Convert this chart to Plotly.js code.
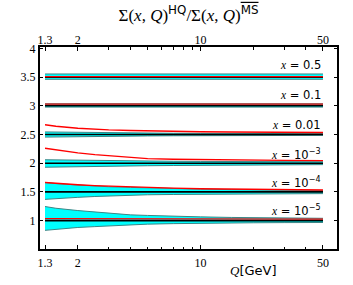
<!DOCTYPE html>
<html><head><meta charset="utf-8">
<script src="https://cdn.plot.ly/plotly-3.0.1.min.js"></script>
<style>html,body{margin:0;padding:0;background:#fff}#g{width:353px;height:285px}</style>
</head><body><div id="g"></div>
<script>
const Q = [1.3, 1.5, 2, 2.5, 3, 4, 5, 7, 10, 15, 20, 30, 50];
const labels = ['0.5', '0.1', '0.01', '10<sup>−3</sup>', '10<sup>−4</sup>', '10<sup>−5</sup>'];
const labelY = [3.71, 3.19, 2.67, 2.145, 1.67, 1.17];
const center = [3.5, 3.0, 2.5, 2.0, 1.5, 1.0];
// band upper / lower edges and HQ (red) curves
const up05 = [3.555,3.555,3.555,3.555,3.555,3.555,3.555,3.555,3.555,3.555,3.555,3.555,3.555];
const lo05 = [3.462,3.462,3.462,3.462,3.462,3.462,3.462,3.462,3.462,3.462,3.462,3.462,3.462];
const red05 = [3.508,3.508,3.508,3.508,3.508,3.508,3.508,3.508,3.508,3.508,3.508,3.508,3.508];
const up01 = [3.035,3.035,3.035,3.035,3.035,3.035,3.035,3.035,3.035,3.035,3.035,3.035,3.035];
const lo01 = [2.978,2.978,2.978,2.978,2.978,2.978,2.978,2.978,2.978,2.978,2.978,2.978,2.978];
const red01 = [3.03,3.03,3.03,3.03,3.03,3.03,3.03,3.03,3.03,3.03,3.03,3.03,3.03];
const up001 = [2.545,2.542,2.537,2.533,2.53,2.527,2.525,2.522,2.52,2.518,2.517,2.516,2.515];
const lo001 = [2.455,2.458,2.463,2.467,2.47,2.473,2.475,2.478,2.48,2.482,2.483,2.484,2.485];
const red001 = [2.67,2.645,2.61,2.59,2.58,2.57,2.562,2.555,2.548,2.543,2.54,2.537,2.535];
const up1e3 = [2.06,2.057,2.05,2.046,2.043,2.04,2.037,2.034,2.031,2.029,2.028,2.026,2.025];
const lo1e3 = [1.93,1.934,1.94,1.944,1.947,1.952,1.956,1.96,1.964,1.967,1.97,1.972,1.975];
const red1e3 = [2.26,2.23,2.18,2.15,2.13,2.095,2.08,2.07,2.062,2.057,2.053,2.05,2.045];
const up1e4 = [1.665,1.645,1.62,1.6,1.59,1.578,1.568,1.558,1.548,1.54,1.535,1.53,1.525];
const lo1e4 = [1.37,1.385,1.405,1.42,1.43,1.443,1.45,1.455,1.46,1.463,1.465,1.467,1.47];
const red1e4 = [1.665,1.65,1.625,1.61,1.6,1.585,1.575,1.565,1.555,1.548,1.543,1.537,1.532];
const up1e5 = [1.245,1.215,1.175,1.15,1.13,1.1,1.09,1.075,1.065,1.055,1.05,1.045,1.04];
const lo1e5 = [0.83,0.85,0.88,0.895,0.907,0.928,0.938,0.947,0.955,0.96,0.962,0.965,0.967];
const red1e5 = [1.035,1.034,1.033,1.032,1.031,1.03,1.03,1.029,1.028,1.027,1.026,1.026,1.025];
const xTicks = [1.3, 2, 10, 50];
const xMinor = [3,4,5,6,7,8,9,20,30,40];
const yTicks = [1, 1.5, 2, 2.5, 3, 3.5, 4];

const ups = [up05, up01, up001, up1e3, up1e4, up1e5];
const los = [lo05, lo01, lo001, lo1e3, lo1e4, lo1e5];
const reds = [red05, red01, red001, red1e3, red1e4, red1e5];

const traces = [];
const edge = {color: '#3c8585', width: 1};
for (let i = 0; i < 6; i++) {
  traces.push({x: Q, y: los[i], mode: 'lines', line: edge, hoverinfo: 'skip', showlegend: false});
  traces.push({x: Q, y: ups[i], mode: 'lines', line: edge, fill: 'tonexty', fillcolor: '#00ffff', hoverinfo: 'skip', showlegend: false});
}
for (let i = 0; i < 6; i++) {
  traces.push({x: Q, y: Q.map(() => center[i]), mode: 'lines', line: {color: '#000', width: 1.6}, showlegend: false});
}
for (let i = 0; i < 6; i++) {
  traces.push({x: Q, y: reds[i], mode: 'lines', line: {color: '#ff0000', width: 1.4}, showlegend: false});
}
traces.push({x: xTicks, y: xTicks.map(() => 2), xaxis: 'x2', mode: 'markers', marker: {opacity: 0}, hoverinfo: 'skip', showlegend: false});

const tickFont = {family: 'Liberation Serif, Times New Roman, serif', size: 12, color: '#000'};
const xr = [Math.log10(1.217), Math.log10(60.1)];
const annotations = labels.map((t, i) => ({
  x: Math.log10(50), y: labelY[i], xref: 'x', yref: 'y', xanchor: 'right', yanchor: 'middle',
  text: '<i style="font-family:Liberation Serif">x</i> = ' + t, showarrow: false,
  font: {family: 'DejaVu Sans, sans-serif', size: 11.5, color: '#000'}
}));
annotations.push({
  x: (253 - 40) / 297, y: -(270 - 249) / 202, xref: 'paper', yref: 'paper', xanchor: 'center', yanchor: 'middle',
  text: '<i style="font-family:Liberation Serif">Q</i>[GeV]', showarrow: false,
  font: {family: 'DejaVu Sans, sans-serif', size: 13, color: '#000'}
});

const layout = {
  width: 353, height: 285,
  margin: {l: 40, r: 16, t: 47, b: 36, pad: 0},
  paper_bgcolor: '#fff', plot_bgcolor: '#fff',
  title: {
    text: 'Σ(<i>x</i>, <i>Q</i>)<sup><span style="font-family:DejaVu Sans">HQ</span></sup>/Σ(<i>x</i>, <i>Q</i>)<sup><span style="font-family:DejaVu Sans;text-decoration:overline">MS</span></sup>',
    font: {family: 'Liberation Serif, serif', size: 17, color: '#000'},
    x: 0.5, xref: 'paper', y: 1 - 15 / 285, yref: 'container', xanchor: 'center', yanchor: 'middle'
  },
  xaxis: {
    type: 'log', range: xr, tickvals: xTicks, ticktext: xTicks.map(String),
    ticks: 'inside', ticklen: 4, tickcolor: '#000', showgrid: false, zeroline: false,
    showline: true, linecolor: '#000', linewidth: 2, mirror: true,
    tickfont: tickFont, ticklabelstandoff: 2,
    minor: {tickvals: xMinor, ticks: 'inside', ticklen: 2.5, tickcolor: '#000', showgrid: false}
  },
  xaxis2: {
    type: 'log', range: xr, overlaying: 'x', side: 'top', anchor: 'y',
    tickvals: xTicks, ticktext: xTicks.map(String),
    ticks: 'inside', ticklen: 4, tickcolor: '#000', showgrid: false, zeroline: false,
    tickfont: tickFont,
    minor: {tickvals: xMinor, ticks: 'inside', ticklen: 2.5, tickcolor: '#000', showgrid: false}
  },
  yaxis: {
    range: [0.505, 4.025], tickvals: yTicks, ticktext: yTicks.map(String),
    ticks: 'inside', ticklen: 3, tickcolor: '#000', showgrid: false, zeroline: false,
    showline: true, linecolor: '#000', linewidth: 2, mirror: 'ticks',
    tickfont: tickFont
  },
  annotations: annotations
};
Plotly.newPlot('g', traces, layout, {displayModeBar: false, staticPlot: true});
</script>
</body></html>
